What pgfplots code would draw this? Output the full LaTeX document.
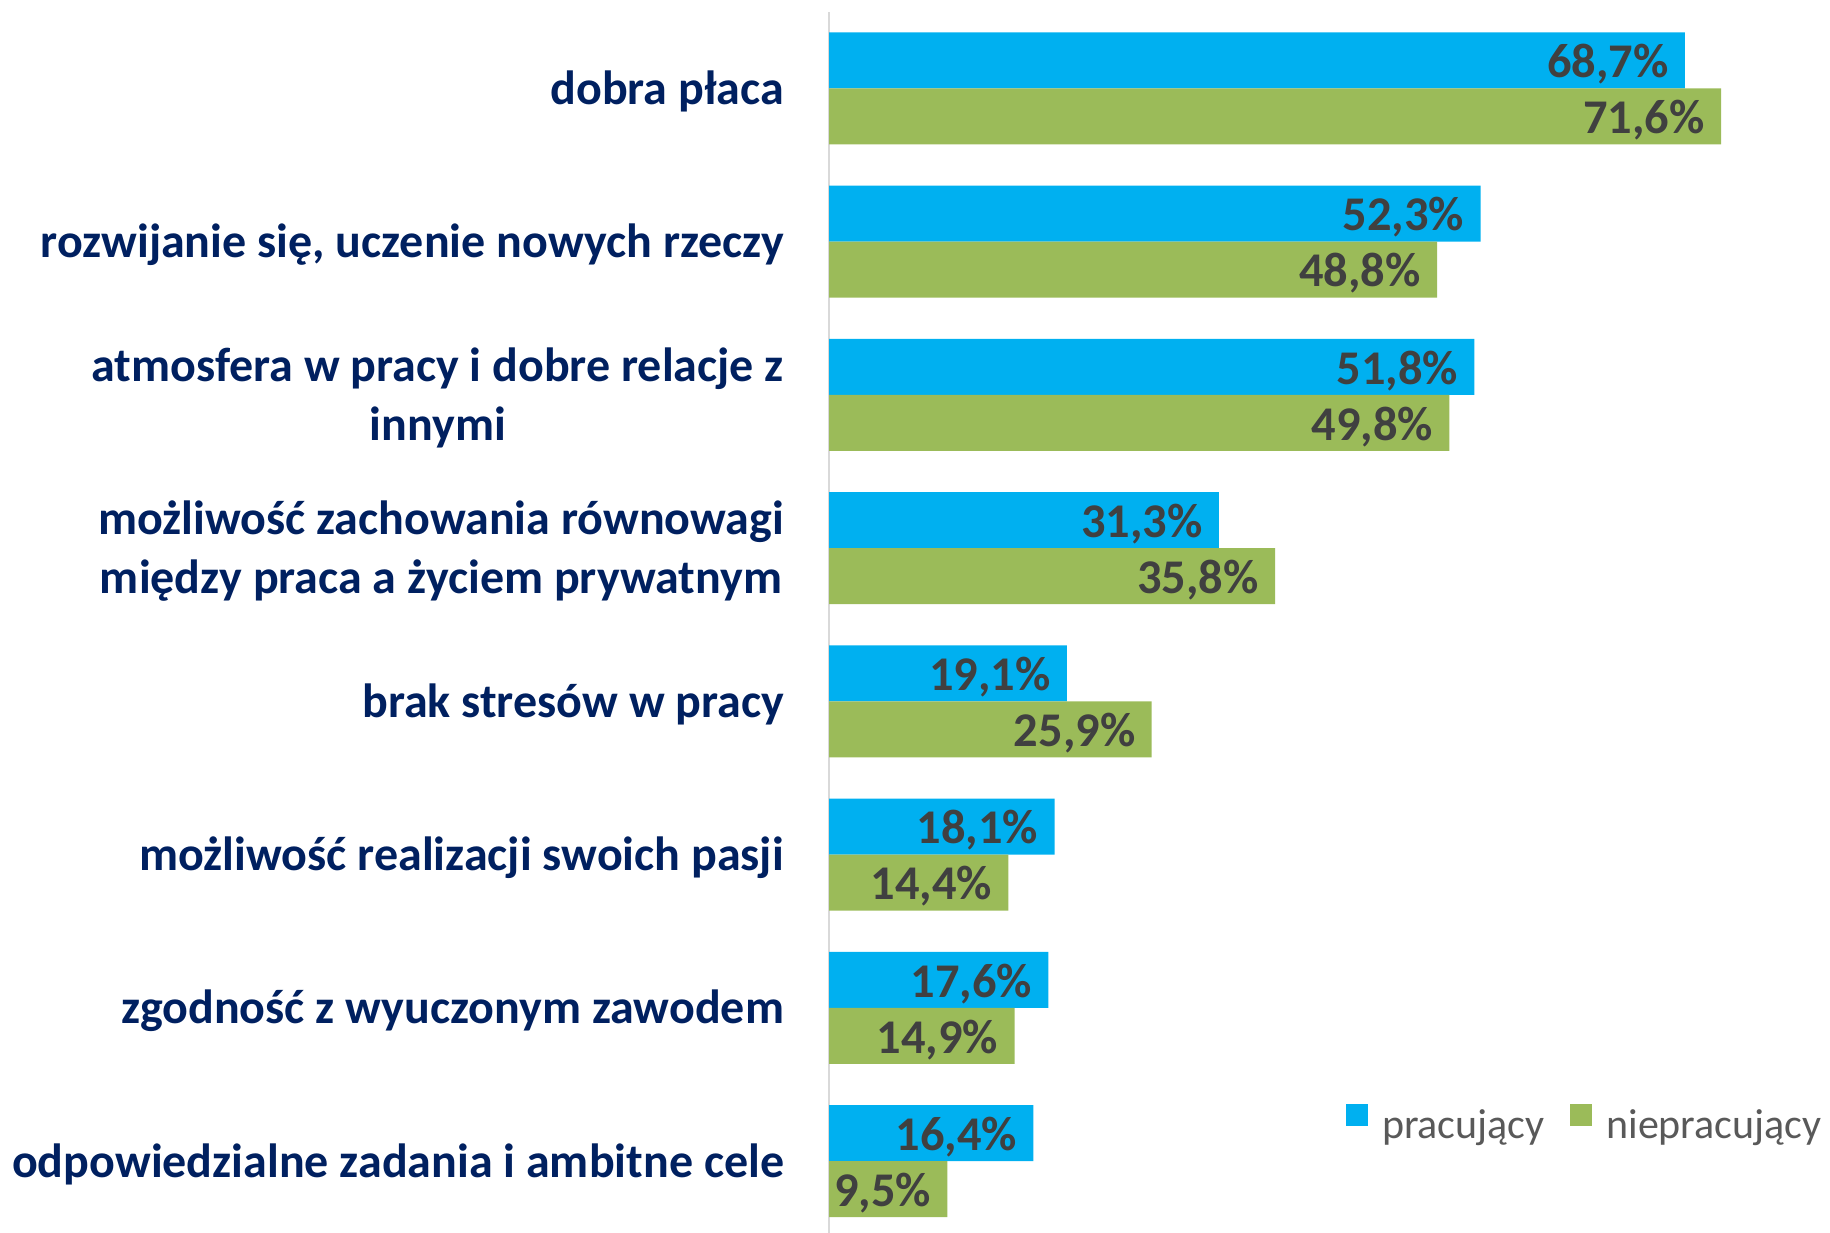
\documentclass[border=0pt]{standalone}
\usepackage{pgfplots}
\pgfplotsset{compat=1.18}
\usepackage{fontspec}
\setmainfont{Carlito}
\definecolor{barcyan}{HTML}{00B0F0}
\definecolor{bargreen}{HTML}{9BBB59}
\definecolor{catnavy}{HTML}{002060}
\definecolor{valgrey}{HTML}{404040}
\definecolor{leggrey}{HTML}{595959}
\definecolor{axisgrey}{HTML}{D9D9D9}

\begin{document}
\begin{tikzpicture}
\path[use as bounding box] (0,0) rectangle (915pt,616pt);
\begin{axis}[
    at={(414.5pt,610.15pt)}, anchor=north west,
    scale only axis, width=500pt, height=613pt,
    xbar, bar width=28pt,
    xmin=0, xmax=80.26, ymin=-0.5, ymax=7.5,
    axis x line=none, axis y line*=left,
    y axis line style={draw=axisgrey, line width=1pt},
    ytick={0,...,7}, major tick length=0pt,
    yticklabels={
        {odpowiedzialne zadania i ambitne cele},
        {zgodność z wyuczonym zawodem},
        {możliwość realizacji swoich pasji},
        {brak stresów w pracy},
        {możliwość zachowania równowagi\\między praca a życiem prywatnym},
        {atmosfera w pracy i dobre relacje z\\innymi},
        {rozwijanie się, uczenie nowych rzeczy},
        {dobra płaca}},
    yticklabel style={align=center, inner sep=0pt, xshift=-22.3pt, yshift=-1.5pt,
        font=\fontsize{24}{29.6}\selectfont\bfseries, text=catnavy},
    /pgf/number format/assume math mode=true,
    nodes near coords={\pgfmathprintnumber[fixed,fixed zerofill,precision=1,use comma]{\pgfplotspointmeta}\%},
    every node near coord/.append style={anchor=base east, inner sep=0pt, xshift=-8pt, yshift=-8.6pt,
        font=\fontsize{24.2}{28}\selectfont\bfseries, text=valgrey},
    legend columns=2,
    legend style={draw=none, fill=none, at={(0.5166,0.0937)}, anchor=west,
        inner sep=0pt, font=\fontsize{21}{25}\selectfont, text=leggrey,
        column sep=7pt, /tikz/every even column/.append style={column sep=12.8pt},
        nodes={inner sep=0pt}},
    every axis plot post/.append style={
        legend image code/.code={\fill[##1] (0pt,0pt) rectangle (11pt,11pt);}},
]

% pracujący
\addplot[fill=barcyan, draw=none, bar shift=14pt]
coordinates {
    (16.4,0)
    (17.6,1)
    (18.1,2)
    (19.1,3)
    (31.3,4)
    (51.8,5)
    (52.3,6)
    (68.7,7)
};
\addlegendentry{pracujący}

% niepracujący
\addplot[fill=bargreen, draw=none, bar shift=-14pt]
coordinates {
    (9.5,0)
    (14.9,1)
    (14.4,2)
    (25.9,3)
    (35.8,4)
    (49.8,5)
    (48.8,6)
    (71.6,7)
};
\addlegendentry{niepracujący}

\end{axis}
\end{tikzpicture}
\end{document}
